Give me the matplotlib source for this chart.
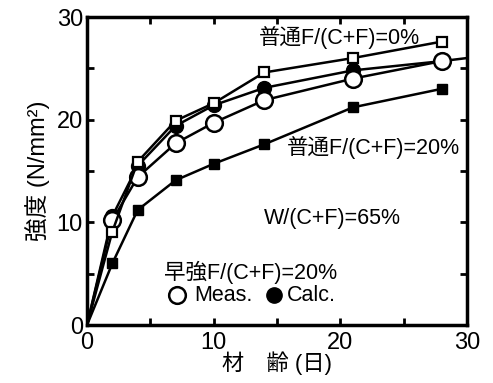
import numpy as np
import matplotlib
matplotlib.use("Agg")
import matplotlib.pyplot as plt
from matplotlib.ticker import MultipleLocator

plt.rcParams['font.family'] = ['Liberation Sans', 'Noto Sans CJK JP', 'DejaVu Sans']

# 材齢 (日)
age = [0, 2, 4, 7, 10, 14, 21, 28]
# 普通 F/(C+F)=0%  (measured, open squares)
futsu_0 = [0, 9.1, 15.9, 19.9, 21.6, 24.6, 26.0, 27.6]
# 普通 F/(C+F)=20% (measured, filled squares)
futsu_20 = [0, 6.0, 11.2, 14.1, 15.7, 17.6, 21.2, 23.0]
# 早強 F/(C+F)=20% measured (open circles)
soukyou_meas = [0, 10.2, 14.4, 17.7, 19.7, 21.9, 24.0, 25.7]
# 早強 F/(C+F)=20% calculated (filled circles + curve to 30 days)
calc_age = [0, 2, 4, 7, 10, 14, 21, 28, 30]
soukyou_calc = [0, 10.6, 15.5, 19.4, 21.4, 23.1, 24.8, 25.7, 26.0]

fig = plt.figure(figsize=(4.93, 3.83), dpi=100)
ax = fig.add_axes([0.1765, 0.1514, 0.7705, 0.8042])

mk = list(range(1, 8))
ax.plot(age, futsu_20, color='black', lw=1.8, marker='s', ms=7,
        mfc='black', mec='black', markevery=mk)
ax.plot(calc_age, soukyou_calc, color='black', lw=1.8, marker='o', ms=10,
        mfc='black', mec='black', markevery=mk)
ax.plot(age, soukyou_meas, color='black', lw=1.8, marker='o', ms=12,
        mfc='white', mec='black', mew=1.8, markevery=mk)
ax.plot(age, futsu_0, color='black', lw=1.8, marker='s', ms=7,
        mfc='white', mec='black', mew=1.6, markevery=mk)

ax.set_xlim(0, 30)
ax.set_ylim(0, 30)
ax.xaxis.set_major_locator(MultipleLocator(10))
ax.xaxis.set_minor_locator(MultipleLocator(5))
ax.yaxis.set_major_locator(MultipleLocator(10))
ax.yaxis.set_minor_locator(MultipleLocator(5))
ax.tick_params(which='both', direction='in', top=True, right=True,
               length=5, width=2, labelsize=17, pad=3)
ax.tick_params(axis='x', pad=5)
for s in ax.spines.values():
    s.set_linewidth(2.5)

ax.set_xlabel('材　齢 (日)', fontsize=16, labelpad=-2)
ax.set_ylabel('強度 (N/mm²)', fontsize=17, labelpad=5)

fs = 15.5
ax.text(13.6, 28.0, '普通F/(C+F)=0%', fontsize=fs, va='center')
ax.text(15.8, 17.3, '普通F/(C+F)=20%', fontsize=fs, va='center')
ax.text(14.0, 10.4, 'W/(C+F)=65%', fontsize=fs, va='center')
ax.text(6.1, 5.1, '早強F/(C+F)=20%', fontsize=fs, va='center')
ax.plot([7.1], [2.9], 'o', ms=12, mfc='white', mec='black', mew=1.8)
ax.text(8.5, 2.9, 'Meas.', fontsize=fs, va='center')
ax.plot([14.8], [2.9], 'o', ms=11, mfc='black', mec='black')
ax.text(15.8, 2.9, 'Calc.', fontsize=fs, va='center')

fig.savefig('out.png', dpi=100)
